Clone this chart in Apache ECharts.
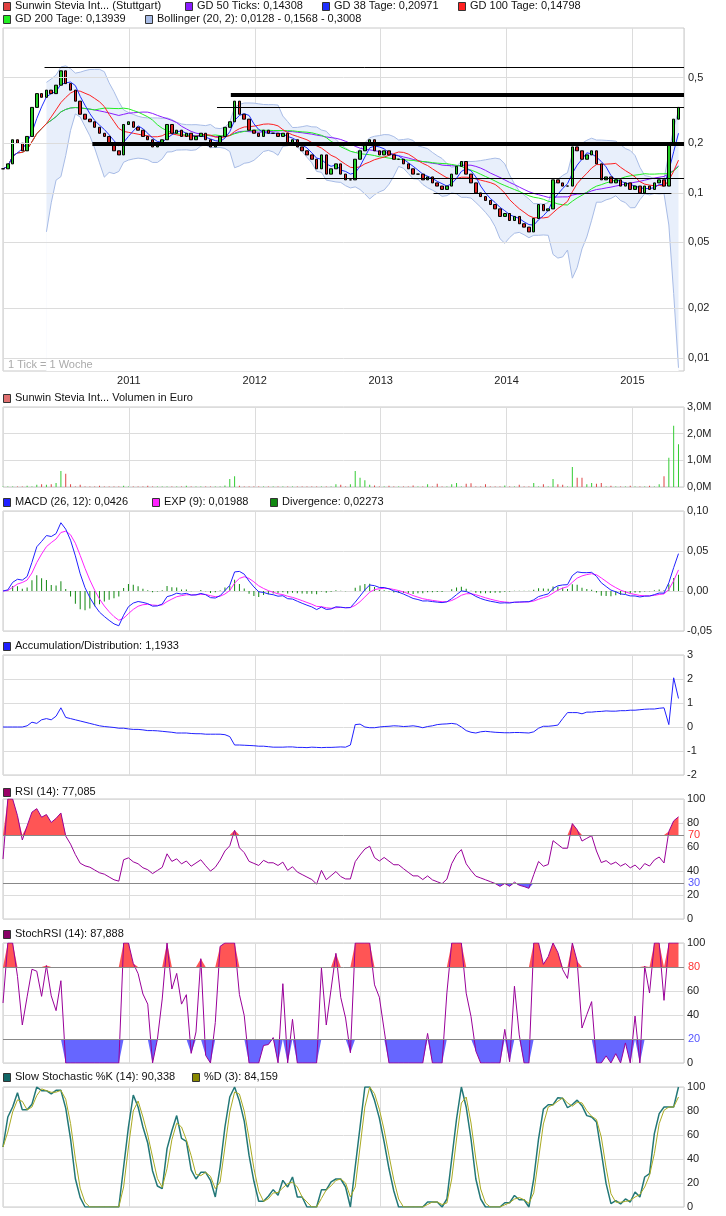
<!DOCTYPE html><html><head><meta charset="utf-8">
<script src="https://cdn.jsdelivr.net/npm/echarts@6/dist/echarts.min.js"></script>
<style>html,body{margin:0;padding:0;background:#fff}#c{width:726px;height:1216px}</style></head><body><div id="c"></div>
<script>
// biweekly closes, Jan 2010 - May 2015
const closes=[0.14,0.15,0.21,0.2,0.18,0.22,0.33,0.4,0.38,0.42,0.4,0.45,0.55,0.46,0.42,0.36,0.3,0.28,0.27,0.25,
0.23,0.22,0.2,0.18,0.17,0.26,0.27,0.25,0.24,0.22,0.21,0.19,0.2,0.21,0.26,0.23,0.24,0.22,0.23,0.21,
0.22,0.23,0.21,0.19,0.2,0.22,0.25,0.27,0.36,0.3,0.28,0.24,0.23,0.22,0.24,0.23,0.23,0.22,0.23,0.2,
0.21,0.19,0.18,0.17,0.16,0.14,0.17,0.13,0.14,0.15,0.13,0.12,0.12,0.16,0.18,0.2,0.21,0.18,0.17,0.18,
0.17,0.16,0.16,0.15,0.14,0.13,0.13,0.12,0.125,0.115,0.11,0.105,0.11,0.13,0.145,0.155,0.13,0.115,0.1,0.095,
0.09,0.085,0.08,0.072,0.075,0.068,0.072,0.065,0.062,0.058,0.07,0.085,0.078,0.08,0.12,0.115,0.11,0.11,0.19,0.18,
0.16,0.17,0.18,0.15,0.12,0.125,0.115,0.12,0.11,0.115,0.105,0.11,0.1,0.11,0.105,0.115,0.12,0.11,0.2,0.28,0.33];
// volume in million euro (sparse spikes)
const volSpikes={5:0.05,7:0.08,8:0.1,9:0.08,10:0.1,11:0.15,12:0.6,13:0.5,14:0.1,16:0.08,20:0.05,25:0.05,30:0.05,38:0.05,46:0.06,47:0.3,48:0.4,49:0.05,
69:0.1,70:0.08,72:0.1,73:0.6,74:0.35,75:0.25,76:0.08,77:0.06,80:0.05,85:0.06,88:0.1,90:0.12,93:0.1,94:0.15,96:0.12,97:0.14,100:0.1,104:0.06,107:0.08,110:0.15,112:0.1,
114:0.3,115:0.1,116:0.08,118:0.75,119:0.35,120:0.35,121:0.1,122:0.15,123:0.12,124:0.15,126:0.05,130:0.05,134:0.05,136:0.1,137:0.4,138:1.1,139:2.3,140:1.6};
const adVals=[0,0,0,0,0,0.05,0.2,0.15,0.3,0.35,0.3,0.45,0.8,0.4,0.35,0.3,0.25,0.2,0.15,0.1,
0.05,0.02,0,-0.02,-0.05,-0.05,-0.08,-0.1,-0.1,-0.12,-0.15,-0.15,-0.16,-0.18,-0.2,-0.22,-0.25,-0.25,-0.25,-0.27,
-0.28,-0.28,-0.3,-0.3,-0.3,-0.3,-0.32,-0.4,-0.75,-0.75,-0.76,-0.77,-0.78,-0.8,-0.8,-0.82,-0.84,-0.84,-0.84,-0.83,
-0.83,-0.85,-0.85,-0.86,-0.84,-0.85,-0.86,-0.85,-0.85,-0.84,-0.83,-0.84,-0.75,0.1,0.12,0.0,-0.03,-0.03,0.0,0.02,
0.03,0.05,0.04,0.02,0.03,0.05,0.02,-0.03,0.02,0.05,0.1,0.12,0.13,0.15,0.12,0.0,-0.15,-0.22,-0.25,-0.2,
-0.18,-0.2,-0.22,-0.23,-0.24,-0.24,-0.23,-0.23,-0.24,-0.25,-0.2,-0.05,0.03,0.03,0.05,0.08,0.35,0.6,0.6,0.6,
0.55,0.62,0.62,0.64,0.65,0.67,0.66,0.66,0.68,0.68,0.7,0.7,0.72,0.74,0.75,0.75,0.78,0.8,0.1,2.05,1.19];
const priceTicks=[0.5,0.2,0.1,0.05,0.02,0.01];
const years=['2011','2012','2013','2014','2015'];

const N=closes.length;
const xs=closes.map((_,i)=>2010+i*14/365.25);
const opens=closes.map((c,i)=>i?closes[i-1]:c);
const lg=v=>Math.log10(v);
function sma(a,n){return a.map((_,i)=>{if(i<n-1)return null;let s=0;for(let k=i-n+1;k<=i;k++)s+=a[k];return s/n;});}
function smaP(a,n){return a.map((_,i)=>{const m=Math.min(n,i+1);let s=0;for(let k=i-m+1;k<=i;k++)s+=a[k];return s/m;});}
function ema(a,n){const k=2/(n+1);let o=[];a.forEach((v,i)=>o.push(i?v*k+o[i-1]*(1-k):v));return o;}
const ma38=smaP(closes,4),ma100=smaP(closes,10),ma200=smaP(closes,20),ma50=smaP(closes,25);
const bm=sma(closes,10);
const bLow=[],bUp=[];
closes.forEach((_,i)=>{if(i<9){bLow.push(null);bUp.push(null);return;}let s=0;for(let k=i-9;k<=i;k++)s+=(closes[k]-bm[i])**2;const sd=Math.sqrt(s/10);bLow.push(Math.max(bm[i]-2*sd,0.0087));bUp.push(bm[i]+2*sd);});
const e12=ema(closes,6),e26=ema(closes,13);
const macd=closes.map((_,i)=>e12[i]-e26[i]);
const sig=ema(macd,4);
const div=macd.map((m,i)=>m-sig[i]);
const rsi=[];{let ag=0,al=0;const n=10;closes.forEach((c,i)=>{if(!i){rsi.push(50);return;}const d=c-closes[i-1];const g=Math.max(d,0),l=Math.max(-d,0);ag=(ag*(n-1)+g)/n;al=(al*(n-1)+l)/n;rsi.push(al===0?100:100-100/(1+ag/al));});}
const srsi=rsi.map((r,i)=>{const w=rsi.slice(Math.max(0,i-6),i+1);const mn=Math.min(...w),mx=Math.max(...w);return mx===mn?50:100*(r-mn)/(mx-mn);});
const rawK=closes.map((c,i)=>{const w=closes.slice(Math.max(0,i-6),i+1);const mn=Math.min(...w),mx=Math.max(...w);return mx===mn?50:100*(c-mn)/(mx-mn);});
const slowK=smaP(rawK,3),slowD=smaP(slowK,2);

const P=(a,f)=>a.map((v,i)=>[xs[i],v==null?null:(f?f(v):v)]);
const grids=[[28,371],[407,487],[511,631],[655,775],[799,919],[943,1063],[1087,1207]];
const yCfg=[
 {min:-2.08,max:0,show:false},
 {min:0,max:3,interval:1,fmt:v=>v.toFixed(1).replace('.',',')+'M'},
 {min:-0.05,max:0.1,interval:0.05,fmt:v=>v.toFixed(2).replace('.',',')},
 {min:-2,max:3,interval:1,fmt:v=>String(v)},
 {min:0,max:100,interval:20,fmt:v=>String(v)},
 {min:0,max:100,interval:20,fmt:v=>(v===80||v===20)?'':String(v)},
 {min:0,max:100,interval:20,fmt:v=>String(v)}];
const F='"Liberation Sans Narrow","Liberation Sans",sans-serif';
const grid=grids.map(g=>({left:3,right:42,top:g[0],height:g[1]-g[0],show:true,borderColor:'#c8c8c8',borderWidth:1}));
const xAxis=grids.map((g,i)=>({type:'value',gridIndex:i,min:2010,max:2015.41,interval:1,
 axisLine:{show:false},axisTick:{show:false},
 axisLabel:{show:i===0,showMinLabel:false,showMaxLabel:false,color:'#222',fontFamily:F,fontSize:11,margin:4,formatter:v=>years[Math.round(v)-2011]||''},
 splitLine:{show:true,lineStyle:{color:'#dcdcdc'}}}));
const yAxis=yCfg.map((c,i)=>({type:'value',gridIndex:i,position:'right',min:c.min,max:c.max,interval:c.interval,
 axisLine:{show:false},axisTick:{show:false},
 axisLabel:{show:c.show!==false,formatter:c.fmt,color:'#222',fontFamily:F,fontSize:11,margin:3},
 splitLine:{show:c.show!==false,lineStyle:{color:'#dcdcdc'}}}));
const ln=(name,data,color,gi,w)=>({type:'line',name,xAxisIndex:gi,yAxisIndex:gi,data,showSymbol:false,symbol:'none',lineStyle:{color,width:w||1},itemStyle:{color},z:3,silent:true});
const fillS=(gi,data,origin,color)=>({type:'line',xAxisIndex:gi,yAxisIndex:gi,data,symbol:'none',lineStyle:{width:0},areaStyle:{color,origin,opacity:1},silent:true,z:2});
const xEnd=2015.41;
const series=[
 {type:'line',xAxisIndex:0,yAxisIndex:0,data:P(bUp,lg),symbol:'none',lineStyle:{color:'#a8bce6',width:1},areaStyle:{color:'#e8effb',origin:'start',opacity:1},silent:true,z:1},
 {type:'line',xAxisIndex:0,yAxisIndex:0,data:P(bLow,lg),symbol:'none',lineStyle:{color:'#a8bce6',width:1},areaStyle:{color:'#ffffff',origin:'start',opacity:1},silent:true,z:1,
  markLine:{symbol:'none',silent:true,animation:false,lineStyle:{color:'#dcdcdc',type:'solid',width:1},
   label:{position:'end',color:'#222',fontFamily:F,fontSize:11,distance:4,formatter:p=>p.name},
   data:priceTicks.map(v=>({yAxis:lg(v),name:String(v).replace('.',',')}))}},
 {type:'candlestick',xAxisIndex:0,yAxisIndex:0,barWidth:3,data:closes.map((c,i)=>[xs[i],lg(opens[i]),lg(c),lg(Math.min(opens[i],c)),lg(Math.max(opens[i],c))]),
  encode:{x:0,y:[1,2,3,4]},itemStyle:{color:'#22cc22',color0:'#dd2222',borderColor:'#000',borderColor0:'#000',borderWidth:1},z:4,silent:true,
  markLine:{symbol:'none',silent:true,animation:false,label:{show:false},lineStyle:{color:'#000',type:'solid'},
   data:[[{coord:[2010.33,lg(0.577)],lineStyle:{width:1}},{coord:[xEnd,lg(0.577)]}],
         [{coord:[2011.81,lg(0.392)],lineStyle:{width:4}},{coord:[xEnd,lg(0.392)]}],
         [{coord:[2011.70,lg(0.331)],lineStyle:{width:1}},{coord:[xEnd,lg(0.331)]}],
         [{coord:[2010.71,lg(0.2)],lineStyle:{width:4}},{coord:[xEnd,lg(0.2)]}],
         [{coord:[2012.41,lg(0.122)],lineStyle:{width:1}},{coord:[xEnd,lg(0.122)]}],
         [{coord:[2013.42,lg(0.1)],lineStyle:{width:1}},{coord:[2015.31,lg(0.1)]}]]}},
 ln('ma50',P(ma50,lg),'#8a1cff',0),ln('ma200',P(ma200,lg),'#22ee22',0),ln('ma100',P(ma100,lg),'#ff2020',0),ln('ma38',P(ma38,lg),'#2030ff',0),
 {type:'bar',xAxisIndex:1,yAxisIndex:1,barWidth:1,silent:true,data:closes.map((c,i)=>({value:[xs[i],volSpikes[i]!=null?volSpikes[i]:0.02],itemStyle:{color:c>=opens[i]?'#33cc33':'#dd4444'}}))},
 {type:'bar',xAxisIndex:2,yAxisIndex:2,barWidth:1,silent:true,data:P(div),itemStyle:{color:'#118811'}},
 ln('sig',P(sig),'#ff22ff',2),ln('macd',P(macd),'#2020ff',2),
 ln('ad',P(adVals),'#2020ff',3),
 fillS(4,P(rsi.map(r=>Math.max(r,70))),70,'#ff5555'),
 fillS(4,P(rsi.map(r=>Math.min(r,30))),30,'#6666ff'),
 Object.assign(ln('rsi',P(rsi),'#990099',4),{markLine:{symbol:'none',silent:true,animation:false,lineStyle:{color:'#888',type:'solid',width:1},label:{position:'end',fontFamily:F,fontSize:11,distance:4,formatter:p=>p.name},
   data:[{yAxis:70,name:'70',label:{color:'#ff3333'}},{yAxis:30,name:'30',label:{color:'#5555ff'}}]}}),
 fillS(5,P(srsi.map(r=>Math.max(r,80))),80,'#ff5555'),
 fillS(5,P(srsi.map(r=>Math.min(r,20))),20,'#6666ff'),
 Object.assign(ln('srsi',P(srsi),'#990099',5),{markLine:{symbol:'none',silent:true,animation:false,lineStyle:{color:'#888',type:'solid',width:1},label:{position:'end',fontFamily:F,fontSize:11,distance:4,formatter:p=>p.name},
   data:[{yAxis:80,name:'80',label:{color:'#ff3333'}},{yAxis:20,name:'20',label:{color:'#5555ff'}}]}}),
 ln('k',P(slowK),'#227777',6,1.5),ln('d',P(slowD),'#aaaa22',6,1)
];
const leg=[
 [3,6,'#e04040','Sunwin Stevia Int... (Stuttgart)'],[185,6,'#8a1cff','GD 50 Ticks: 0,14308'],[322,6,'#2030ff','GD 38 Tage: 0,20971'],[458,6,'#ff2020','GD 100 Tage: 0,14798'],
 [3,19,'#22ee22','GD 200 Tage: 0,13939'],[145,19,'#a8bce6','Bollinger (20, 2): 0,0128 - 0,1568 - 0,3008'],
 [3,398,'#e07070','Sunwin Stevia Int... Volumen in Euro'],
 [3,502,'#2020ff','MACD (26, 12): 0,0426'],[152,502,'#ff22ff','EXP (9): 0,01988'],[270,502,'#118811','Divergence: 0,02273'],
 [3,646,'#2020ff','Accumulation/Distribution: 1,1933'],
 [3,792,'#990066','RSI (14): 77,085'],[3,934,'#880066','StochRSI (14): 87,888'],
 [3,1077,'#116666','Slow Stochastic %K (14): 90,338'],[192,1077,'#888800','%D (3): 84,159']];
const graphic=[];
leg.forEach(([x,y,c,t])=>{graphic.push({type:'rect',z:100,left:x,top:y-4,shape:{width:7,height:8},style:{fill:c,stroke:'#333',lineWidth:1}});
 graphic.push({type:'text',z:100,left:x+12,top:y-6,style:{text:t,fill:'#111',font:'11px '+F}});});
graphic.push({type:'text',z:100,left:8,top:359,style:{text:'1 Tick = 1 Woche',fill:'#aaa',font:'11px '+F}});
const ch=echarts.init(document.getElementById('c'));
ch.setOption({animation:false,grid,xAxis,yAxis,series,graphic});
</script></body></html>
